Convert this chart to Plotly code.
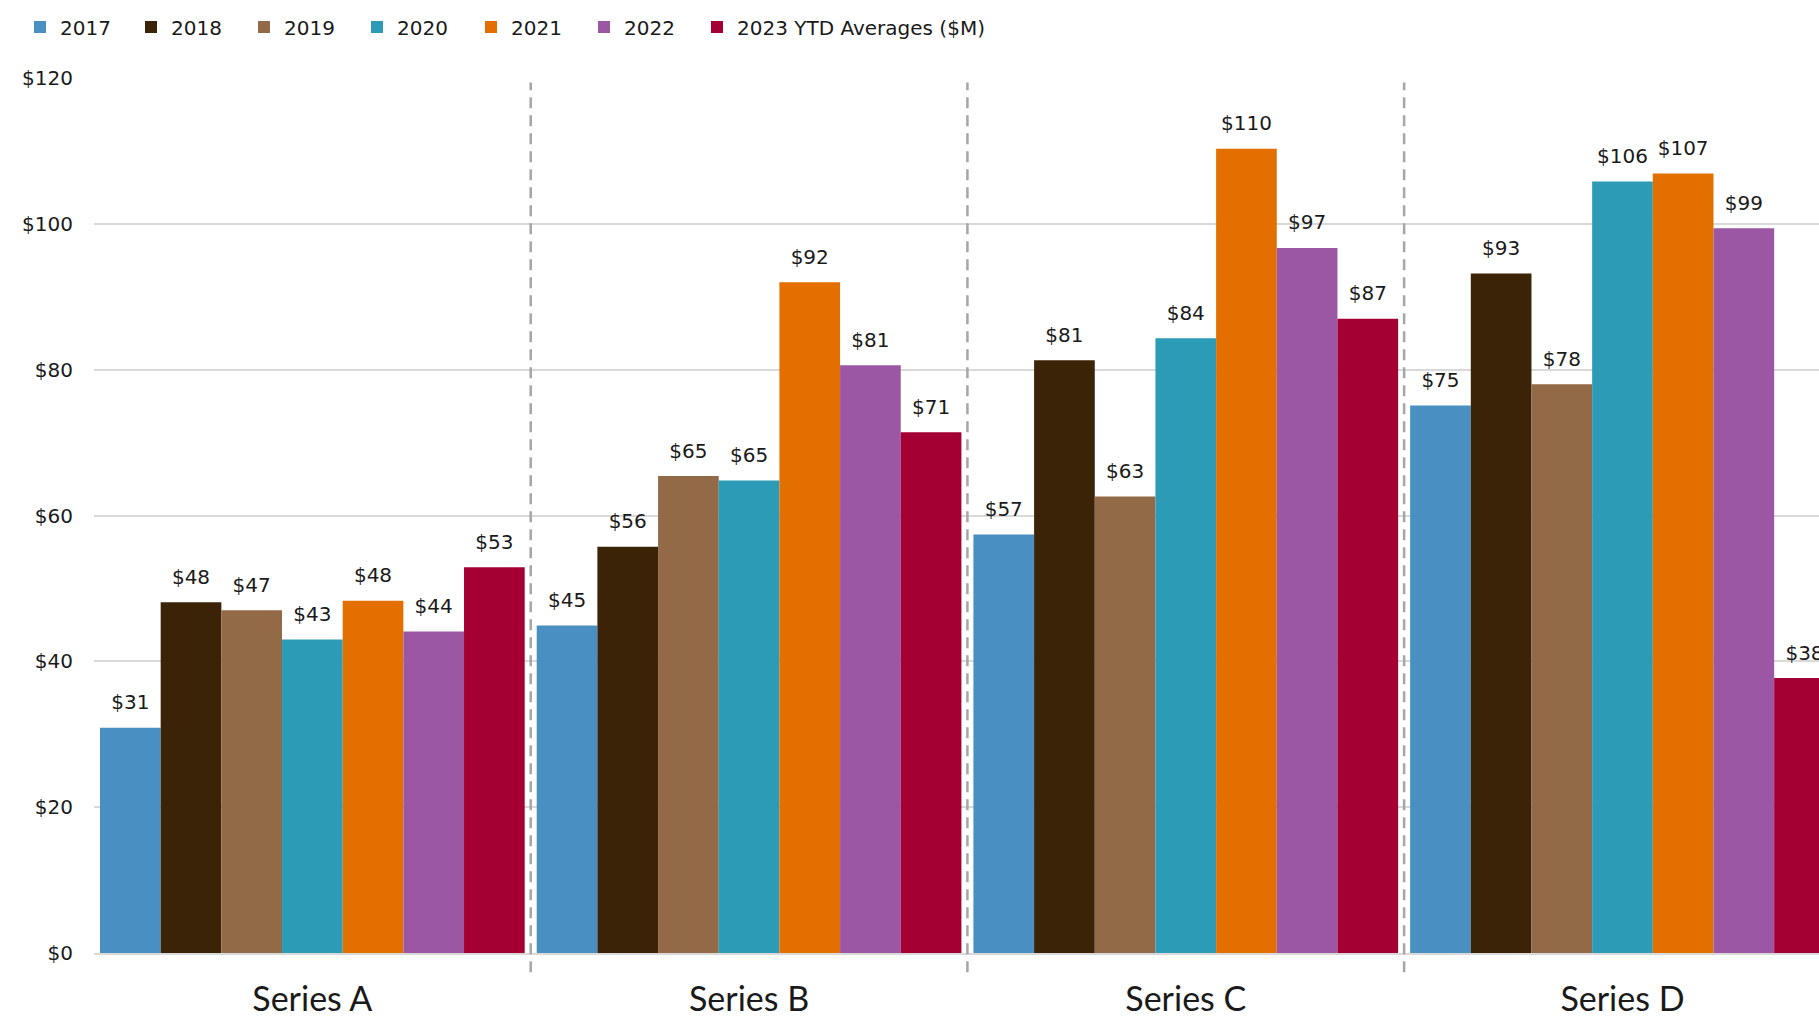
import plotly.graph_objects as go

categories = ["Series A", "Series B", "Series C", "Series D"]
series_names = ["2017", "2018", "2019", "2020", "2021", "2022", "2023 YTD Averages ($M)"]
v2017 = [30.9, 44.9, 57.4, 75.1]
v2018 = [48.1, 55.7, 81.3, 93.2]
v2019 = [47.0, 65.4, 62.6, 78.0]
v2020 = [43.0, 64.8, 84.3, 105.8]
v2021 = [48.3, 92.0, 110.3, 106.9]
v2022 = [44.1, 80.6, 96.7, 99.4]
v2023 = [52.9, 71.4, 87.0, 37.7]
series_values = [v2017, v2018, v2019, v2020, v2021, v2022, v2023]
colors = ["#4A8FC1", "#3B2308", "#936A47", "#2B9BB6", "#E36F00", "#9B57A4", "#A50034"]
separators = [0.5, 1.5, 2.5]
legend_left_px = [20, 131, 244, 357, 471, 584, 697]

NUM_FONT = "DejaVu Sans"
CAT_FONT = "Lato"
TXT = "#1a1a1a"
GAP = 0.0275
W, H = 1819, 1017

fig = go.Figure()
legend_ids = ["legend"] + ["legend%d" % (i + 1) for i in range(1, len(series_names))]
for name, vals, col, lid in zip(series_names, series_values, colors, legend_ids):
    fig.add_trace(go.Bar(
        x=categories, y=vals, name=name, marker=dict(color=col, line=dict(width=0)),
        hoverinfo="skip", legend=lid,
    ))
for name, vals in zip(series_names, series_values):
    fig.add_trace(go.Scatter(
        x=categories, y=vals, mode="markers+text", showlegend=False,
        marker=dict(size=20, color="rgba(0,0,0,0)"),
        texttemplate="$%{y:.0f}", textposition="top center",
        textfont=dict(family=NUM_FONT, size=20, color=TXT),
        hoverinfo="skip",
    ))

for sx in separators:
    fig.add_shape(type="line", xref="x", yref="paper", x0=sx, x1=sx, y0=-0.022, y1=0.995,
                  line=dict(color="#a6a6a6", width=2.5, dash="11px,7px"), layer="above")

legends = {}
for lid, lx in zip(legend_ids, legend_left_px):
    legends[lid] = dict(
        orientation="h", xref="container", yref="container",
        x=lx / W, xanchor="left", y=1 - 27 / H, yanchor="middle",
        font=dict(family=NUM_FONT, size=20, color=TXT),
        bgcolor="rgba(0,0,0,0)",
    )

fig.update_layout(
    width=W, height=H,
    margin=dict(l=94, r=0, t=78, b=64, pad=0, autoexpand=False),
    paper_bgcolor="white", plot_bgcolor="white",
    barmode="group", bargap=GAP, bargroupgap=0,
    scattermode="group", scattergap=GAP,
    font=dict(family=NUM_FONT, size=20, color=TXT),
    xaxis=dict(
        type="category", range=[-0.5, 3.45], showgrid=False, zeroline=False,
        showline=True, linecolor="#d9d9d9", linewidth=2, ticks="", automargin=False,
        tickfont=dict(family=CAT_FONT, size=34, color=TXT), ticklabelstandoff=15,
    ),
    yaxis=dict(
        range=[0, 120], dtick=20, tickprefix="$", showgrid=True, gridcolor="#d9d9d9",
        gridwidth=2, zeroline=False, showline=False, ticks="", automargin=False,
        tickfont=dict(family=NUM_FONT, size=20, color=TXT), ticklabelstandoff=20,
    ),
    showlegend=True,
    **legends,
)

fig.write_html("out.html")
